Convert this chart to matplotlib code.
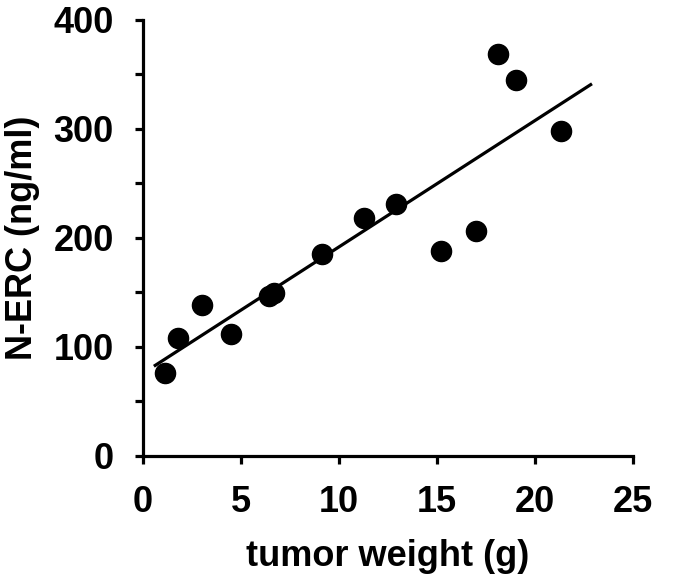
import numpy as np
import matplotlib
matplotlib.use('Agg')
import matplotlib.pyplot as plt

# tumor weight (g) vs N-ERC (ng/ml)
tumor_weight = [1.1, 1.8, 3.0, 4.5, 6.4, 6.7, 9.15, 11.25, 12.9, 15.2, 17.0, 18.1, 19.0, 21.3]
nerc = [76, 108, 138, 112, 147, 149, 185, 218, 231, 188, 206, 369, 345, 298]
fit_range = [0.55, 22.9]

plt.rcParams['font.family'] = ['Liberation Sans', 'DejaVu Sans']
plt.rcParams['font.weight'] = 'bold'

fig = plt.figure(figsize=(6.75, 5.85), dpi=100)
ax = fig.add_axes([0.212, 0.221, 0.726, 0.745])

slope, intercept = np.polyfit(tumor_weight, nerc, 1)
fx = np.array(fit_range)
ax.plot(fx, slope * fx + intercept, color='black', lw=2.3, solid_capstyle='butt')
ax.plot(tumor_weight, nerc, 'o', color='black', ms=14.5, clip_on=False)

ax.set_xlim(0, 25)
ax.set_ylim(0, 400)
ax.set_xticks([0, 5, 10, 15, 20, 25])
ax.set_yticks([0, 100, 200, 300, 400])
ax.set_yticks([50, 150, 250, 350], minor=True)

for s in ['top', 'right']:
    ax.spines[s].set_visible(False)
for s in ['left', 'bottom']:
    ax.spines[s].set_linewidth(2.3)

ax.tick_params(which='both', direction='out', length=6, width=2.3, labelsize=26)
ax.tick_params(axis='x', which='both', pad=15)
ax.tick_params(axis='y', which='both', pad=15)
for lab in ax.get_xticklabels() + ax.get_yticklabels():
    lab.set_fontweight('bold')

ax.set_xlabel('tumor weight (g)', fontsize=26, fontweight='bold', labelpad=14)
ax.set_ylabel('N-ERC (ng/ml)', fontsize=26, fontweight='bold', labelpad=10)

fig.savefig('out.png', dpi=100)
